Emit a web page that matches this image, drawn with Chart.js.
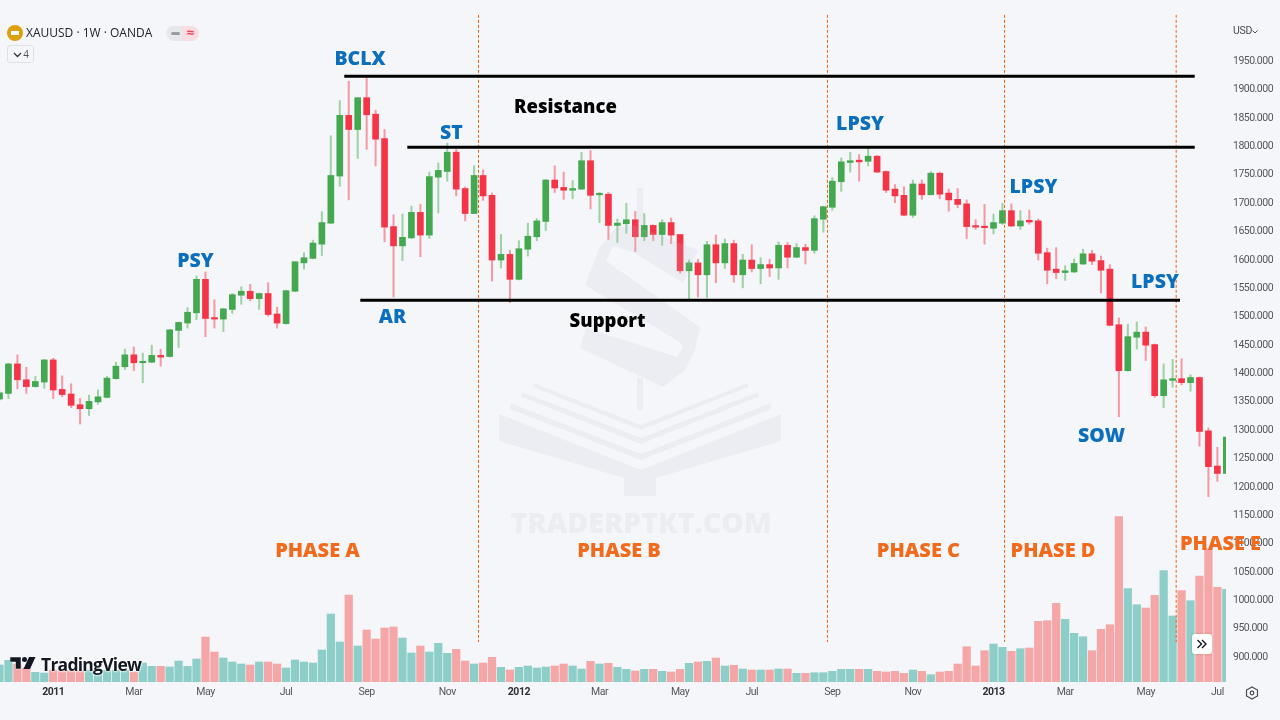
<!DOCTYPE html>
<html>
<head>
<meta charset="utf-8">
<title>XAUUSD 1W</title>
<script src="https://cdn.jsdelivr.net/npm/chart.js"></script>
<style>
  html, body { margin: 0; padding: 0; background: #f5f6f9; overflow: hidden; }
  #wrap { position: relative; width: 1280px; height: 720px; font-family: "Open Sans", sans-serif; }
  #gold { display: block; }
  .ui { position: absolute; white-space: nowrap; }
  #symbol { left: 26px; top: 25px; font-size: 12px; line-height: 16px; color: #232428; }
  #coin { left: 7px; top: 25px; width: 16px; height: 16px; border-radius: 50%; background: #dfa00e; }
  #coin i { position: absolute; left: 4px; top: 6px; width: 8px; height: 4px; background: #fff; }
  #badge { left: 166px; top: 26px; width: 33px; height: 15px; border-radius: 8px; overflow: hidden; background: #e7e8ec; }
  #badge i { position: absolute; left: 5px; top: 6px; width: 9px; height: 3px; border-radius: 2px; background: #9a9ca3; }
  #badge b { position: absolute; left: 16px; top: 0; width: 17px; height: 15px; background: #f9dde3; color: #f0405a; font: bold 11px/14px "DejaVu Sans"; text-align: center; }
  #collapse { left: 7px; top: 45px; width: 25px; height: 16px; border: 1px solid #dfe1e6; border-radius: 3px; font-size: 10px; line-height: 16px; color: #555; text-align: right; }
  #collapse span { padding-right: 4px; }
  #collapse svg { position: absolute; left: 5px; top: 6px; }
  #currency { left: 1233px; top: 24px; font: 10.5px/14px Roboto, sans-serif; letter-spacing: -0.3px; color: #4a4c52; }
  #currency svg { position: absolute; left: 19px; top: 6px; }
  #logo { left: 10px; top: 654px; height: 20px; }
  #logotext { left: 41px; top: 652px; font: 700 17.5px/24px "Open Sans", sans-serif; letter-spacing: -0.75px; color: #131722; text-shadow: 0 0 2px #fff, 0 0 2px #fff, 0 0 3px #fff; }
  #scroll { left: 1192px; top: 634px; width: 20px; height: 20px; background: #fff; border-radius: 3px; box-shadow: 0 0 3px rgba(0,0,0,.15); }
  #gear { left: 1245px; top: 686px; }
</style>
</head>
<body>
<div id="wrap">
  <canvas id="gold" width="1280" height="720"></canvas>
  <div class="ui" id="coin"><i></i></div>
  <div class="ui" id="symbol">XAUUSD · 1W · OANDA</div>
  <div class="ui" id="badge"><i></i><b>≈</b></div>
  <div class="ui" id="collapse">
    <svg width="9" height="6"><path d="M1 1 L4.500 4.500 L8 1" fill="none" stroke="#333" stroke-width="1.300"/></svg>
    <span>4</span>
  </div>
  <div class="ui" id="currency">USD<svg width="6" height="4"><path d="M0.500 0.500 L3 3 L5.500 0.500" fill="none" stroke="#4a4c52"/></svg></div>
  <svg class="ui" id="logo" width="28" height="20">
    <path d="M0 3 H11 V15 H5.500 V8 H0 Z" fill="#131722" stroke="#fff" stroke-width=".5"/>
    <circle cx="14.500" cy="5.500" r="2.500" fill="#131722"/>
    <path d="M19 3 H25.500 L20 15 H13.500 Z" fill="#131722"/>
  </svg>
  <div class="ui" id="logotext">TradingView</div>
  <div class="ui" id="scroll">
    <svg width="20" height="20"><path d="M5.500 6 L9.500 10 L5.500 14 M10 6 L14 10 L10 14" fill="none" stroke="#131722" stroke-width="1.400"/></svg>
  </div>
  <svg class="ui" id="gear" width="14" height="14">
    <path d="M7 1 L12.500 4 V10 L7 13 L1.500 10 V4 Z" fill="none" stroke="#4a4c52" stroke-width="1.200"/>
    <circle cx="7" cy="7" r="1.800" fill="none" stroke="#4a4c52" stroke-width="1.200"/>
  </svg>
</div>

<script>
// weekly candles, index 0 is the first visible week
var opens = [1353,1363,1415,1387,1375,1383,1422,1370,1362,1343,
  1336,1348,1356,1389,1410,1431,1417,1418,1430,1428,
  1474,1487,1505,1564,1496,1494,1511,1536,1543,1530,
  1539,1503,1486,1543,1593,1601,1626,1663,1746,1853,
  1828,1884,1855,1812,1657,1623,1637,1682,1642,1744,
  1754,1788,1724,1680,1747,1712,1598,1608,1564,1617,
  1639,1666,1739,1726,1721,1723,1773,1713,1714,1659,
  1662,1669,1639,1659,1643,1664,1643,1579,1593,1572,
  1625,1593,1627,1572,1598,1583,1590,1584,1624,1603,
  1620,1615,1670,1691,1736,1770,1774,1772,1781,1754,
  1723,1712,1677,1732,1713,1751,1716,1705,1697,1658,
  1657,1654,1663,1685,1658,1668,1667,1611,1582,1576,
  1577,1591,1609,1597,1582,1484,1403,1462,1471,1449,
  1359,1386,1389,1382,1391,1297,1235,1222];
var closes = [1364,1415,1387,1375,1384,1422,1369,1361,1342,1336,
  1349,1357,1390,1411,1431,1417,1419,1430,1427,1475,
  1488,1506,1564,1495,1494,1512,1537,1543,1530,1539,
  1502,1487,1544,1595,1602,1628,1664,1747,1853,1828,
  1884,1854,1811,1656,1623,1638,1682,1642,1745,1756,
  1788,1723,1680,1747,1711,1598,1608,1564,1618,1640,
  1667,1739,1725,1721,1724,1773,1712,1715,1659,1663,
  1669,1639,1659,1643,1664,1642,1579,1593,1572,1625,
  1593,1627,1572,1598,1583,1590,1584,1624,1603,1620,
  1615,1671,1692,1737,1771,1773,1771,1781,1753,1721,
  1711,1677,1732,1713,1751,1714,1704,1696,1657,1656,
  1655,1664,1685,1658,1667,1665,1610,1580,1576,1579,
  1592,1609,1596,1580,1483,1403,1463,1471,1448,1359,
  1387,1389,1382,1391,1296,1234,1222,1286];
var highs = [1366,1416,1431,1409,1393,1423,1425,1394,1380,1354,
  1360,1369,1393,1418,1441,1445,1434,1448,1441,1476,
  1489,1514,1570,1577,1528,1513,1539,1551,1555,1540,
  1558,1515,1545,1595,1611,1633,1683,1817,1879,1913,
  1885,1919,1862,1828,1678,1679,1693,1696,1753,1769,
  1804,1793,1727,1764,1757,1716,1643,1615,1632,1663,
  1671,1740,1764,1753,1738,1788,1791,1717,1717,1670,
  1698,1684,1680,1660,1669,1672,1643,1598,1599,1631,
  1642,1635,1633,1608,1625,1602,1599,1630,1629,1627,
  1626,1676,1693,1743,1778,1788,1784,1796,1782,1755,
  1731,1727,1739,1739,1754,1753,1723,1724,1704,1669,
  1696,1679,1698,1697,1685,1686,1670,1619,1620,1588,
  1600,1617,1615,1605,1590,1496,1485,1489,1480,1450,
  1415,1423,1424,1396,1392,1302,1268,1286];
var lows = [1351,1354,1371,1363,1374,1372,1354,1357,1338,1309,
  1324,1344,1355,1388,1405,1403,1382,1417,1411,1427,
  1444,1478,1493,1463,1478,1472,1504,1520,1526,1511,
  1499,1478,1485,1542,1582,1600,1606,1662,1728,1704,
  1777,1793,1764,1630,1533,1597,1636,1604,1636,1681,
  1737,1711,1667,1680,1703,1561,1584,1523,1563,1605,
  1632,1650,1717,1705,1706,1722,1688,1664,1634,1629,
  1645,1613,1632,1632,1624,1627,1575,1528,1533,1532,
  1558,1583,1559,1549,1577,1556,1569,1564,1584,1602,
  1591,1610,1647,1686,1719,1753,1737,1764,1752,1717,
  1699,1676,1673,1705,1713,1706,1684,1690,1636,1652,
  1626,1644,1661,1657,1652,1661,1598,1556,1565,1562,
  1576,1590,1590,1540,1482,1322,1402,1441,1421,1356,
  1338,1374,1378,1367,1270,1181,1208,1222];
var volumes = [17,21.7,18,14,9.7,9,12,12,12,11,
  12,10,12,12,12,10,19,15.7,15.7,15,
  21,15.7,23,45,30,24,20,18,17,20,
  20,18,14,22,20,19,32,68,40,87,
  36,52,43,54,55,44,29,36,30,38.7,
  28.7,32.7,21,18,19,24.7,14.7,12,14.7,16,
  14,15,16,18,16,13,20.7,18,18.7,14.7,
  12.7,11,12.7,12.7,10.7,10,12.7,18.7,20,20.7,
  24,16,16.7,13,12,12,12,13,13,8.7,
  8.7,9.3,9.3,10.7,12.7,12.7,12.7,12.7,10.7,10,
  10.7,8.7,12,10.7,7.3,10,10.7,18,35.3,16,
  31.3,38,34.7,30.7,33.3,34,60.7,61.3,78.7,62.7,
  48.7,45.3,31.3,52.7,57.3,165.3,93.3,77.3,74,86.7,
  111.3,66,91.3,81.3,106,133.3,94.7,92.7];

// axis labels
var priceTicks = [1950,1900,1850,1800,1750,1700,1650,1600,1550,1500,1450,
  1400,1350,1300,1250,1200,1150,1100,1050,1000,950,900];
var timeTickWeeks = [6,15,23,32,41,50,58,67,76,84,93,102,111,119,128,136];
var timeTickLabels = ["2011","Mar","May","Jul","Sep","Nov","2012","Mar","May","Jul","Sep","Nov","2013","Mar","May","Jul"];

// support / resistance levels
var levelPrices = [1921.8, 1796.6, 1527.1];
var levelStarts = [38.5, 45.54, 40.29];
var levelEnds = [133.47, 133.47, 131.83];

// phase boundaries
var phaseWeeks = [53.49, 92.46, 112.23, 131.4];

// text placed on the price pane
var calloutTexts = ["BCLX","PSY","AR","ST","LPSY","LPSY","LPSY","SOW"];
var calloutWeeks = [40.26,21.89,43.89,50.47,96.09,115.46,129.03,123.06];
var calloutPrices = [1951,1595,1497,1821,1837,1726,1558,1287];
var levelTexts = ["Resistance","Support"];
var levelTextWeeks = [63.2,67.9];
var levelTextPrices = [1866,1489];
var phaseTexts = ["PHASE A","PHASE B","PHASE C","PHASE D","PHASE E"];
var phaseTextWeeks = [35.51,69.18,102.62,117.65,136.35];
var phaseTextPrices = [1085.5,1085.5,1085.5,1085.5,1096.5];

var GREEN = "#43a84f", RED = "#f63447";
var GREEN_WICK = "#9dd2a5", RED_WICK = "#f59aa5";
var TEAL = "#8dcfc8", PINK = "#f5a6a6";
var AXIS_FONT = "Roboto, sans-serif";
var NOTE_FONT = "'Open Sans', sans-serif";

var weeks = opens.map(function (o, i) { return i; });
var isUp = function (i) { return closes[i] >= opens[i]; };

var volumeData = weeks.map(function (i) { return { x: i, y: volumes[i] }; });
var wickData = weeks.map(function (i) { return { x: i, y: [lows[i], highs[i]] }; });
var bodyData = weeks.map(function (i) { return { x: i, y: [opens[i], closes[i]] }; });

var datasets = [
  {
    type: "bar", data: volumeData, yAxisID: "vol", order: 5, grouped: false, clip: 0,
    barThickness: 7.6,
    backgroundColor: weeks.map(function (i) { return isUp(i) ? TEAL : PINK; })
  },
  {
    type: "bar", data: wickData, yAxisID: "y", order: 4, grouped: false, clip: 0,
    barThickness: 1.4,
    backgroundColor: weeks.map(function (i) { return isUp(i) ? GREEN_WICK : RED_WICK; })
  },
  {
    type: "bar", data: bodyData, yAxisID: "y", order: 3, grouped: false, clip: 0,
    barThickness: 6, minBarLength: 1.5,
    backgroundColor: weeks.map(function (i) { return isUp(i) ? GREEN : RED; })
  }
];
var BODY_INDEX = 2;

levelPrices.forEach(function (p, n) {
  datasets.push({
    type: "line", yAxisID: "y", order: 1, borderColor: "#000", borderWidth: 3, pointRadius: 0,
    data: [{ x: levelStarts[n], y: p }, { x: levelEnds[n], y: p }]
  });
});
phaseWeeks.forEach(function (w) {
  datasets.push({
    type: "line", yAxisID: "y", order: 2, borderColor: "#f0640f", borderWidth: 1, borderDash: [3, 2], pointRadius: 0,
    data: [{ x: w, y: 2030 }, { x: w, y: 925 }]
  });
});

function polygon(ctx, pts) {
  ctx.beginPath();
  pts.forEach(function (p, n) {
    if (n === 0) ctx.moveTo(p[0], p[1]); else ctx.lineTo(p[0], p[1]);
  });
  ctx.closePath();
  ctx.fill();
}

// translucent site mark: sits over the candles but under the level lines
var watermark = {
  id: "watermark",
  afterDatasetDraw: function (chart, args) {
    if (args.index !== BODY_INDEX) return;
    var ctx = chart.ctx;
    ctx.save();
    ctx.letterSpacing = "0px";
    ctx.fillStyle = "rgba(190,194,204,0.16)";
    // dollar sign, upper and lower sweep
    polygon(ctx, [[585,285],[600,247],[615,228],[633,225],[698,250],[683,283],[633,252],[613,246],[606,261],[700,327],[695,350],[685,370],[663,387],[580,348],[586,328],[677,357],[683,347],[680,342]]);
    // stem
    polygon(ctx, [[637,188],[643,188],[643,228],[637,228]]);
    polygon(ctx, [[637,378],[643,378],[643,410],[637,410]]);
    // open book
    polygon(ctx, [[499,414],[641,470],[781,414],[781,441],[656,478],[656,496],[624,496],[624,478],[499,441]]);
    polygon(ctx, [[510,403],[641,454],[771,403],[771,409],[641,460],[510,409]]);
    polygon(ctx, [[522,392],[641,438],[758,392],[758,397],[641,444],[522,397]]);
    polygon(ctx, [[533,383],[641,425],[748,383],[748,387],[641,430],[533,387]]);
    ctx.font = "800 28.500px 'Open Sans', sans-serif";
    ctx.textAlign = "center";
    ctx.textBaseline = "middle";
    ctx.fillText("TRADERPTKT.COM", 641, 524.5);
    ctx.restore();
  }
};

var notes = {
  id: "notes",
  beforeDraw: function (chart) {
    // the axis labels are set tighter than the face's natural spacing
    chart.ctx.letterSpacing = "-0.5px";
  },
  afterDraw: function (chart) {
    var ctx = chart.ctx, xs = chart.scales.x, ys = chart.scales.y;
    function put(texts, wks, prices, font, color) {
      ctx.font = font;
      ctx.fillStyle = color;
      texts.forEach(function (t, n) {
        ctx.fillText(t, xs.getPixelForValue(wks[n]), ys.getPixelForValue(prices[n]));
      });
    }
    ctx.save();
    ctx.letterSpacing = "0px";
    ctx.textAlign = "center";
    ctx.textBaseline = "middle";
    put(calloutTexts, calloutWeeks, calloutPrices, "800 19.500px " + NOTE_FONT, "#0b6fbe");
    put(levelTexts, levelTextWeeks, levelTextPrices, "800 18.500px " + NOTE_FONT, "#000");
    put(phaseTexts, phaseTextWeeks, phaseTextPrices, "800 20px " + NOTE_FONT, "#f26a1b");
    ctx.restore();
  }
};

function isYearTick(c) {
  return c.tick && /^\d/.test(timeTickLabels[timeTickWeeks.indexOf(c.tick.value)]);
}

var chart = new Chart(document.getElementById("gold").getContext("2d"), {
  data: { datasets: datasets },
  plugins: [watermark, notes],
  options: {
    responsive: false,
    animation: false,
    events: [],
    layout: { padding: 0 },
    plugins: { legend: { display: false }, tooltip: { enabled: false } },
    scales: {
      x: {
        type: "linear",
        min: 0.0558,
        max: 136.963,
        offset: false,
        grid: { display: false, drawTicks: false },
        border: { display: false },
        afterBuildTicks: function (scale) {
          scale.ticks = timeTickWeeks.map(function (w) { return { value: w }; });
        },
        afterFit: function (scale) {
          scale.height = 38;
          scale.paddingLeft = scale.paddingRight = 0;
        },
        ticks: {
          autoSkip: false,
          maxRotation: 0,
          padding: 4,
          callback: function (v) { return timeTickLabels[timeTickWeeks.indexOf(v)]; },
          font: function (c) {
            return { family: AXIS_FONT, size: 10.5, weight: isYearTick(c) ? "bold" : "normal" };
          },
          color: function (c) {
            return isYearTick(c) ? "#2e2f33" : "#55575d";
          }
        }
      },
      y: {
        position: "right",
        min: 854.5,
        max: 2056.2,
        grid: { display: false, drawTicks: false },
        border: { display: false },
        afterBuildTicks: function (scale) {
          scale.ticks = priceTicks.map(function (p) { return { value: p }; });
        },
        afterFit: function (scale) {
          scale.width = 54;
          scale.paddingTop = scale.paddingBottom = 0;
        },
        ticks: {
          padding: 7,
          labelOffset: 1,
          crossAlign: "near",
          color: "#55575d",
          font: { family: AXIS_FONT, size: 10.5 },
          callback: function (v) { return v.toFixed(3); }
        }
      },
      vol: {
        display: false,
        position: "left",
        min: 0,
        max: 682
      }
    }
  }
});
</script>
</body>
</html>
